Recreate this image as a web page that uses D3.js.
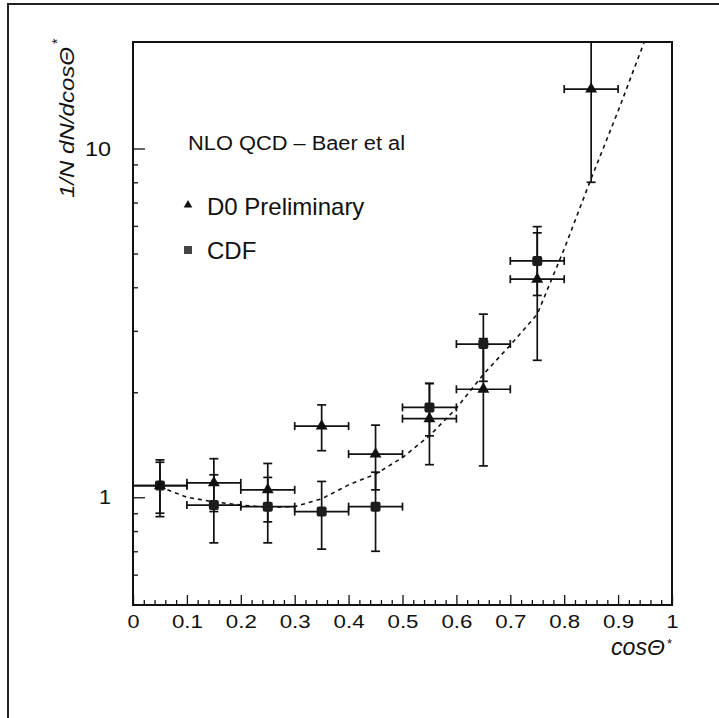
<!DOCTYPE html>
<html>
<head>
<meta charset="utf-8">
<script src="https://cdn.jsdelivr.net/npm/d3@7"></script>
<style>
  html, body { margin: 0; padding: 0; background: #fff; }
  svg { display: block; }
  text { font-family: "Liberation Sans", Arial, Helvetica, sans-serif; fill: #111; }
</style>
</head>
<body>
<svg id="chart" width="719" height="718"></svg>
<script>
// Bin centres in cos(theta*) and half-width of each bin
const binHalfWidth = 0.05;

// D0 preliminary points
const d0Cos    = [0.05, 0.15, 0.25, 0.35, 0.45, 0.55, 0.65, 0.75, 0.85];
const d0Values = [1.08, 1.10, 1.05, 1.60, 1.33, 1.68, 2.04, 4.22, 14.8];
const d0Errors = [0.20, 0.19, 0.20, 0.24, 0.28, 0.44, 0.81, 1.75, 6.8];

// CDF points
const cdfCos    = [0.05, 0.15, 0.25, 0.35, 0.45, 0.55, 0.65, 0.75];
const cdfValues = [1.08, 0.95, 0.94, 0.91, 0.94, 1.81, 2.75, 4.76];
const cdfErrors = [0.18, 0.21, 0.20, 0.20, 0.24, 0.31, 0.60, 0.97];

// NLO QCD prediction (Baer et al)
const nloCos    = [0.05, 0.10, 0.15, 0.20, 0.25, 0.30, 0.35, 0.40, 0.45, 0.50,
                   0.55, 0.60, 0.65, 0.70, 0.75, 0.80, 0.85, 0.90, 0.95];
const nloValues = [1.07, 1.00, 0.97, 0.95, 0.935, 0.94, 0.99, 1.085, 1.165, 1.30,
                   1.50, 1.80, 2.25, 2.73, 3.35, 5.15, 8.2, 12.8, 20.5];

// Axis ticks
const xMajorTicks  = [0, 0.1, 0.2, 0.3, 0.4, 0.5, 0.6, 0.7, 0.8, 0.9, 1];
const xTickLabels  = ["0", "0.1", "0.2", "0.3", "0.4", "0.5", "0.6", "0.7", "0.8", "0.9", "1"];
const xMinorTicks  = d3.range(0, 50).map(i => i * 0.02).filter(v => Math.abs(v * 10 - Math.round(v * 10)) > 1e-6);
const yMajorTicks  = [1, 10];
const yTickLabels  = ["1", "10"];
const yMinorTicks  = [0.6, 0.7, 0.8, 0.9, 2, 3, 4, 5, 6, 7, 8, 9];

const svg = d3.select("#chart");
const W = 719, H = 718;
const plot = { left: 133, top: 42, right: 672, bottom: 605 };

svg.append("rect").attr("width", W).attr("height", H).attr("fill", "#fff");

// Page frame (left and top edges)
svg.append("path")
  .attr("d", `M8,${H} L8,4 L${W},4`)
  .attr("fill", "none").attr("stroke", "#222").attr("stroke-width", 2);

const x = d3.scaleLinear().domain([0, 1]).range([plot.left, plot.right]);
const y = d3.scaleLog().domain([0.491, 20.2]).range([plot.bottom, plot.top]);

svg.append("clipPath").attr("id", "plotClip")
  .append("rect")
  .attr("x", plot.left).attr("y", plot.top)
  .attr("width", plot.right - plot.left).attr("height", plot.bottom - plot.top);

// X axis: major + minor ticks pointing into the plot
const xAxisG = svg.append("g").attr("transform", `translate(0,${plot.bottom})`);
xAxisG.call(d3.axisBottom(x).tickValues(xMajorTicks).tickSize(-10).tickPadding(10)
  .tickFormat((d, i) => xTickLabels[i]));
const xMinorG = svg.append("g").attr("transform", `translate(0,${plot.bottom})`);
xMinorG.call(d3.axisBottom(x).tickValues(xMinorTicks).tickSize(-5).tickFormat(""));

// Y axis: log scale, ticks pointing into the plot
const yAxisG = svg.append("g").attr("transform", `translate(${plot.left},0)`);
yAxisG.call(d3.axisLeft(y).tickValues(yMajorTicks).tickSize(-12).tickPadding(22)
  .tickFormat((d, i) => yTickLabels[i]));
const yMinorG = svg.append("g").attr("transform", `translate(${plot.left},0)`);
yMinorG.call(d3.axisLeft(y).tickValues(yMinorTicks).tickSize(-5).tickFormat(""));

svg.selectAll(".domain").remove();
svg.selectAll(".tick line").attr("stroke", "#111").attr("stroke-width", 1.3);
xAxisG.selectAll("text")
  .attr("font-size", 19).attr("fill", "#111")
  .attr("textLength", (d, i) => xTickLabels[i].length === 1 ? 12 : 31)
  .attr("lengthAdjust", "spacingAndGlyphs");
yAxisG.selectAll("text")
  .attr("font-size", 21).attr("fill", "#111")
  .attr("textLength", (d, i) => yTickLabels[i].length === 1 ? 12 : 26)
  .attr("lengthAdjust", "spacingAndGlyphs");

// Plot frame
svg.append("rect")
  .attr("x", plot.left).attr("y", plot.top)
  .attr("width", plot.right - plot.left).attr("height", plot.bottom - plot.top)
  .attr("fill", "none").attr("stroke", "#111").attr("stroke-width", 2);

// Axis titles
const yTitle = svg.append("g").attr("transform", "translate(73.5,198) rotate(-90)");
yTitle.append("text")
  .attr("x", 0).attr("y", 0)
  .attr("font-size", 21).attr("font-style", "italic")
  .attr("textLength", 151).attr("lengthAdjust", "spacingAndGlyphs")
  .text("1/N dN/dcosΘ");
yTitle.append("text")
  .attr("x", 154).attr("y", -12)
  .attr("font-size", 14)
  .text("*");

svg.append("text")
  .attr("x", 611).attr("y", 655)
  .attr("font-size", 23).attr("font-style", "italic")
  .attr("textLength", 54).attr("lengthAdjust", "spacingAndGlyphs")
  .text("cosΘ");
svg.append("text")
  .attr("x", 667).attr("y", 648)
  .attr("font-size", 13)
  .text("*");

// Theory curve
const plotArea = svg.append("g").attr("clip-path", "url(#plotClip)");
const line = d3.line().x(d => x(d[0])).y(d => y(d[1]));
plotArea.append("path")
  .datum(nloCos.map((c, i) => [c, nloValues[i]]))
  .attr("d", line)
  .attr("fill", "none").attr("stroke", "#111")
  .attr("stroke-width", 1.6).attr("stroke-dasharray", "4,4");

// Error bars with end caps
function drawErrorBars(cosArr, vals, errs) {
  const g = plotArea.append("g").attr("stroke", "#111").attr("stroke-width", 1.7).attr("fill", "none");
  cosArr.forEach((c, i) => {
    const cx = x(c), cy = y(vals[i]);
    const yTop = y(vals[i] + errs[i]), yBot = y(vals[i] - errs[i]);
    const xl = x(c - binHalfWidth), xr = x(c + binHalfWidth);
    g.append("line").attr("x1", cx).attr("x2", cx).attr("y1", yTop).attr("y2", yBot);
    g.append("line").attr("x1", cx - 4.5).attr("x2", cx + 4.5).attr("y1", yTop).attr("y2", yTop);
    g.append("line").attr("x1", cx - 4.5).attr("x2", cx + 4.5).attr("y1", yBot).attr("y2", yBot);
    g.append("line").attr("x1", xl).attr("x2", xr).attr("y1", cy).attr("y2", cy);
    g.append("line").attr("x1", xl).attr("x2", xl).attr("y1", cy - 4).attr("y2", cy + 4);
    g.append("line").attr("x1", xr).attr("x2", xr).attr("y1", cy - 4).attr("y2", cy + 4);
  });
}
drawErrorBars(cdfCos, cdfValues, cdfErrors);
drawErrorBars(d0Cos, d0Values, d0Errors);

// CDF markers (filled squares)
plotArea.append("g").selectAll("rect")
  .data(cdfCos.map((c, i) => [c, cdfValues[i]]))
  .join("rect")
  .attr("x", d => x(d[0]) - 5).attr("y", d => y(d[1]) - 5)
  .attr("width", 10).attr("height", 10).attr("rx", 2)
  .attr("fill", "#1c1c1c");

// D0 markers (filled triangles)
const tri = d3.symbol().type(d3.symbolTriangle).size(62);
plotArea.append("g").selectAll("path")
  .data(d0Cos.map((c, i) => [c, d0Values[i]]))
  .join("path")
  .attr("d", tri)
  .attr("transform", d => `translate(${x(d[0])},${y(d[1])})`)
  .attr("fill", "#111");

// Legend
svg.append("text")
  .attr("x", 188).attr("y", 150)
  .attr("font-size", 20)
  .attr("textLength", 217).attr("lengthAdjust", "spacingAndGlyphs")
  .text("NLO QCD – Baer et al");

svg.append("path")
  .attr("d", d3.symbol().type(d3.symbolTriangle).size(32))
  .attr("transform", "translate(188,205)")
  .attr("fill", "#111");
svg.append("text")
  .attr("x", 207).attr("y", 215)
  .attr("font-size", 24)
  .text("D0 Preliminary");

svg.append("rect")
  .attr("x", 184).attr("y", 246).attr("width", 8).attr("height", 8)
  .attr("fill", "#444");
svg.append("text")
  .attr("x", 207).attr("y", 259)
  .attr("font-size", 24)
  .text("CDF");
</script>
</body>
</html>
